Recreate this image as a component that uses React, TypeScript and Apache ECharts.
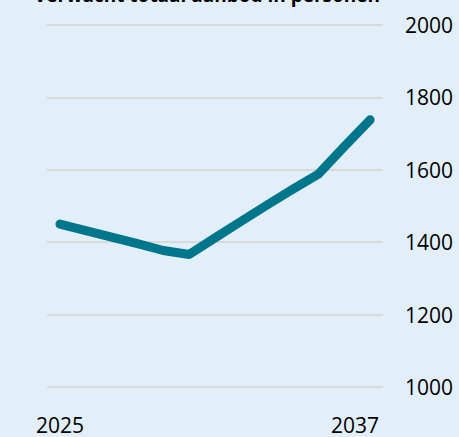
import React, { useEffect, useRef } from "react";
import * as echarts from "echarts";

const title = "Verwacht totaal aanbod in personen";
const years = ["2025", "2026", "2027", "2028", "2029", "2030", "2031", "2032", "2033", "2034", "2035", "2036", "2037"];
const supply = [1450, 1432, 1414, 1396, 1377, 1366, 1412, 1457, 1502, 1546, 1588, 1664, 1738];
const yTicks = { min: 1000, max: 2000, interval: 200 };
const shownYears = ["2025", "2037"];

export default function App() {
  const ref = useRef<HTMLDivElement>(null);
  useEffect(() => {
    document.body.style.margin = "0";
    const chart = echarts.init(ref.current!, null, { renderer: "svg" });
    const font = "'Open Sans', sans-serif";
    chart.setOption({
      animation: false,
      backgroundColor: "#e2eff9",
      grid: { left: 47, right: 76, top: 25, bottom: 50 },
      graphic: [
        {
          type: "text",
          x: 207,
          y: 4,
          style: {
            text: title,
            fontFamily: font,
            fontWeight: "bold",
            fontSize: 19,
            fill: "#000",
            textAlign: "center",
            textVerticalAlign: "bottom",
          },
        },
      ],
      xAxis: {
        type: "category",
        data: years,
        boundaryGap: true,
        axisLine: { show: false },
        axisTick: { show: false },
        splitLine: { show: false },
        axisLabel: {
          interval: (i: number, v: string) => shownYears.includes(v),
          margin: 27,
          fontFamily: font,
          fontSize: 21,
          color: "#000",
          formatter: (v: string) => (v === shownYears[1] ? "{b|" + v + "}" : "{a|" + v + "}"),
          rich: {
            a: { fontFamily: font, fontSize: 21, color: "#000" },
            b: { fontFamily: font, fontSize: 21, color: "#000", padding: [0, 30, 0, 0] },
          },
        },
      },
      yAxis: {
        type: "value",
        position: "right",
        min: yTicks.min,
        max: yTicks.max,
        interval: yTicks.interval,
        axisLine: { show: false },
        axisTick: { show: false },
        axisLabel: {
          margin: 22,
          fontFamily: font,
          fontSize: 21,
          color: "#000",
          formatter: (v: number) => String(v),
        },
        splitLine: { lineStyle: { color: "#d9d9d9", width: 2 } },
      },
      series: [
        {
          type: "line",
          data: supply,
          symbol: "none",
          lineStyle: { color: "#00768c", width: 9, cap: "round", join: "round" },
        },
      ],
    });
    return () => chart.dispose();
  }, []);
  return <div ref={ref} style={{ width: 459, height: 437 }} />;
}
